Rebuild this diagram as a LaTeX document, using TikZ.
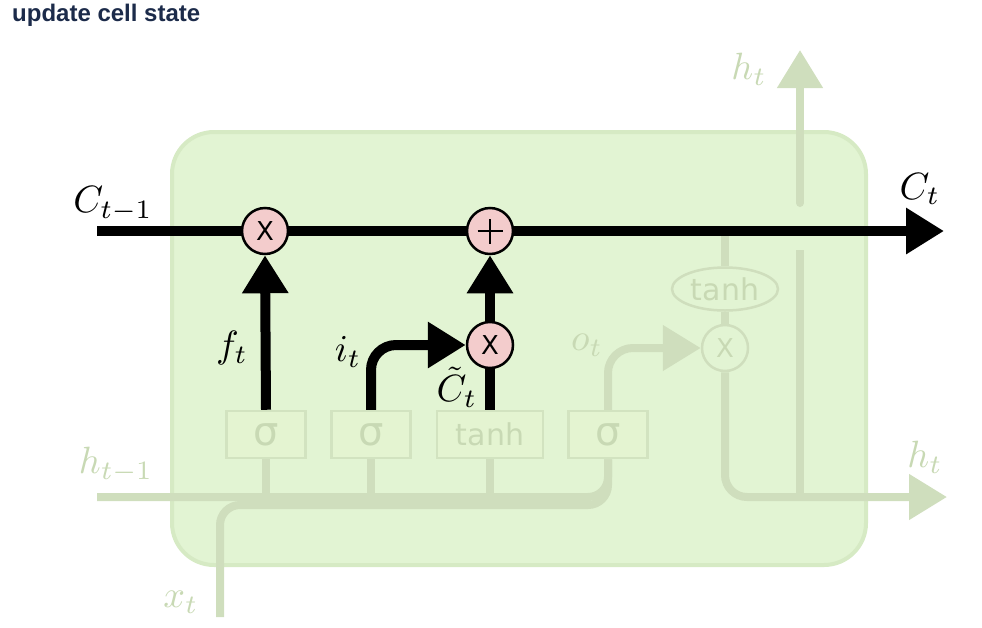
\documentclass[tikz,border=0pt]{standalone}
\usepackage{fontspec}
\usetikzlibrary{arrows.meta,shapes.geometric}
\newfontfamily\titlefont{Liberation Sans}
\newfontfamily\gatefont{DejaVu Sans}
\definecolor{titlecol}{RGB}{28,43,74}
\definecolor{cellfill}{RGB}{226,244,211}
\definecolor{cellborder}{RGB}{214,234,196}
\definecolor{fadedline}{RGB}{207,222,189}
\definecolor{fadedtext}{RGB}{200,217,180}
\definecolor{gateborder}{RGB}{210,227,192}
\definecolor{gatefill}{RGB}{228,244,209}
\definecolor{pinkop}{RGB}{243,204,204}
\tikzset{
  big/.style={line width=10pt, draw=black},
  bigarrow/.style={-{Triangle[length=38pt,width=44pt]}},
  faded/.style={line width=8pt, draw=fadedline},
  fadedarrow/.style={-{Triangle[length=38pt,width=44pt,fill=fadedline]}},
  gate/.style={draw=gateborder, line width=2.5pt, fill=gatefill, minimum height=47pt, inner sep=0pt, text=fadedtext},
  sigmagate/.style={gate, minimum width=79pt, font=\gatefont\fontsize{40}{44}\selectfont},
  tanhgate/.style={gate, minimum width=106pt, font=\gatefont\fontsize{30}{34}\selectfont},
  op/.style={circle, draw=black, line width=2.5pt, fill=pinkop, minimum size=46pt, inner sep=0pt, font=\gatefont\fontsize{26}{28}\selectfont},
  fadedop/.style={circle, draw=fadedline, line width=2.5pt, fill=cellfill, minimum size=46pt, inner sep=0pt, text=fadedtext, font=\gatefont\fontsize{26}{28}\selectfont},
  mlabel/.style={scale=3.8, inner sep=0pt},
  flabel/.style={mlabel, text=fadedtext},
}
\begin{document}
\begin{tikzpicture}[x=1pt,y=-1pt]
\useasboundingbox (0,0) rectangle (982,627);
% title
\node[anchor=base west, inner sep=0pt, text=titlecol, font=\titlefont\bfseries\fontsize{24}{27}\selectfont] (title) at (12,21) {update cell state};
% cell box
\draw[fill=cellfill, draw=cellborder, line width=4pt, rounded corners=42pt] (172,132) rectangle (866,565);
% gates
\node[sigmagate] (g1) at (266,434.5) {σ};
\node[sigmagate] (g2) at (371,434.5) {σ};
\node[tanhgate] (g3) at (490,434.5) {tanh};
\node[sigmagate] (g4) at (608,434.5) {σ};
% faded output part
\node[ellipse, draw=fadedline, line width=2.5pt, fill=cellfill, minimum width=106pt, minimum height=43pt, inner sep=0pt, text=fadedtext, font=\gatefont\fontsize{30}{34}\selectfont] (th) at (725,289) {tanh};
\node[fadedop] (mo) at (725,348) {X};
% coordinates
\coordinate (cin) at (97,231);
\coordinate (cout) at (944,231);
\coordinate (cj) at (725,231);
\coordinate (hin) at (97,497);
\coordinate (xin) at (220,617);
\coordinate (xr) at (608,505);
\coordinate (hout) at (947,497);
\coordinate (hj) at (800,497);
\coordinate (hdtop) at (800,250);
\coordinate (hubot) at (800,203);
\coordinate (hup) at (800,50);
% faded connectors
\draw[faded, rounded corners=20pt] (hin) -| (g4.south);
\draw[faded, rounded corners=20pt] (xin) |- (xr) -- (g4.south);
\draw[faded] (g1.south) -- (g1.south |- hin);
\draw[faded] (g2.south) -- (g2.south |- hin);
\draw[faded] (g3.south) -- (g3.south |- hin);
\draw[faded, fadedarrow, rounded corners=25pt] (g4.north) |- (mo.west);
\draw[faded] (cj) -- (th.north);
\draw[faded] (th.south) -- (mo.north);
\draw[faded, fadedarrow, rounded corners=22pt] (mo.south) |- (hout);
\draw[faded] (hdtop) -- (hj);
\draw[faded, fadedarrow, line cap=round] (hubot) -- (hup);
% ops
\node[op] (m1) at (265,231) {X};
\node[op, path picture={\draw[line width=2.4pt] ([xshift=-12.5pt]path picture bounding box.center) -- ([xshift=12.5pt]path picture bounding box.center); \draw[line width=2.4pt] ([yshift=-12.5pt]path picture bounding box.center) -- ([yshift=12.5pt]path picture bounding box.center);}] (add) at (490,231) {};
\node[op] (m2) at (490,345) {X};
% cell state line
\draw[big] (cin) -- (m1.west);
\draw[big] (m1.east) -- (add.west);
\draw[big, bigarrow] (add.east) -- (cout);
% gate arrows
\draw[big, bigarrow] (g1.north) -- (m1.south);
\draw[big, bigarrow, rounded corners=25pt] (g2.north) |- (m2.west);
\draw[big] (g3.north) -- (m2.south);
\draw[big, bigarrow] (m2.north) -- (add.south);
% labels
\node[mlabel] (lcin) at (113,204) {$C_{t-1}$};
\node[mlabel] (lcout) at (920,189) {$C_t$};
\node[mlabel] (lf) at (232,348) {$f_t$};
\node[mlabel] (li) at (348,352) {$i_t$};
\node[mlabel] (lct) at (457,387) {$\tilde{C}_t$};
\node[flabel] (lo) at (587,345) {$o_t$};
\node[flabel] (lhtop) at (749,69) {$h_t$};
\node[flabel] (lhout) at (925,457) {$h_t$};
\node[flabel] (lhin) at (116,465) {$h_{t-1}$};
\node[flabel] (lx) at (181,602) {$x_t$};
\end{tikzpicture}
\end{document}
